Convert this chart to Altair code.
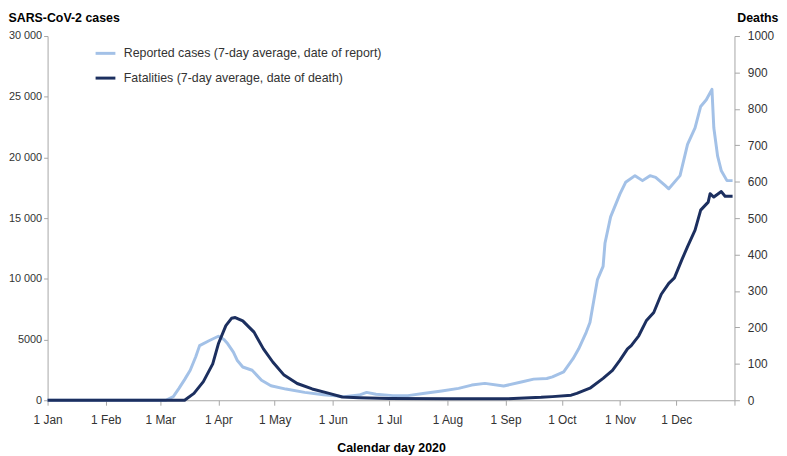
import altair as alt
import pandas as pd

FONT = "Liberation Sans, Arial, sans-serif"

case_dates = ["2020-01-01", "2020-03-04", "2020-03-08", "2020-03-11", "2020-03-14", "2020-03-17",
              "2020-03-20", "2020-03-22", "2020-03-27", "2020-04-01", "2020-04-04", "2020-04-06",
              "2020-04-09", "2020-04-11", "2020-04-14", "2020-04-19", "2020-04-24", "2020-04-29",
              "2020-05-07", "2020-05-17", "2020-05-27", "2020-06-07", "2020-06-15", "2020-06-19",
              "2020-06-24", "2020-07-03", "2020-07-11", "2020-07-20", "2020-07-29", "2020-08-07",
              "2020-08-14", "2020-08-21", "2020-08-31", "2020-09-10", "2020-09-16", "2020-09-23",
              "2020-09-26", "2020-10-02", "2020-10-07", "2020-10-10", "2020-10-14", "2020-10-16",
              "2020-10-20", "2020-10-23", "2020-10-24", "2020-10-27", "2020-11-01", "2020-11-04",
              "2020-11-09", "2020-11-13", "2020-11-17", "2020-11-20", "2020-11-25", "2020-11-27",
              "2020-12-03", "2020-12-07", "2020-12-11", "2020-12-14", "2020-12-17", "2020-12-20",
              "2020-12-21", "2020-12-23", "2020-12-25", "2020-12-28", "2020-12-31"]
case_values = [0, 0, 300, 980, 1700, 2470,
               3600, 4500, 4900, 5270, 5000, 4650,
               3970, 3300, 2740, 2470, 1650, 1200,
               920, 650, 450, 300, 430, 650,
               490, 380, 380, 570, 760, 980,
               1250, 1390, 1170, 1520, 1740, 1790,
               1930, 2340, 3420, 4240, 5600, 6410,
               9940, 11030, 12930, 15100, 17000, 17950,
               18500, 18090, 18500, 18360, 17690, 17420,
               18500, 21080, 22440, 24200, 24750, 25610,
               22440, 20130, 18900, 18090, 18090]

death_dates = ["2020-01-01", "2020-03-14", "2020-03-19", "2020-03-24", "2020-03-29", "2020-04-01",
               "2020-04-05", "2020-04-08", "2020-04-10", "2020-04-14", "2020-04-20", "2020-04-25",
               "2020-04-30", "2020-05-06", "2020-05-13", "2020-05-21", "2020-05-30", "2020-06-06",
               "2020-06-15", "2020-07-01", "2020-08-01", "2020-09-01", "2020-09-20", "2020-09-26",
               "2020-10-06", "2020-10-09", "2020-10-16", "2020-10-23", "2020-10-28", "2020-11-01",
               "2020-11-05", "2020-11-07", "2020-11-11", "2020-11-15", "2020-11-19", "2020-11-23",
               "2020-11-27", "2020-11-30", "2020-12-04", "2020-12-07", "2020-12-11", "2020-12-14",
               "2020-12-18", "2020-12-19", "2020-12-21", "2020-12-25", "2020-12-27", "2020-12-31"]
death_values = [0, 0, 19, 51, 100, 155,
                205, 225, 227, 218, 187, 141,
                105, 69, 46, 31, 19, 9,
                7, 5, 4, 4, 8, 10,
                14, 19, 33, 60, 82, 110,
                141, 150, 177, 218, 241, 291,
                321, 336, 386, 422, 467, 522,
                544, 567, 558, 573, 560, 560]

series_names = ["Reported cases (7-day average, date of report)",
                "Fatalities (7-day average, date of death)"]
series_colors = ["#a3c1e7", "#1c2f5f"]

cases_df = pd.DataFrame({"date": case_dates, "value": case_values, "s": series_names[0]})
deaths_df = pd.DataFrame({"date": death_dates, "value": death_values, "s": series_names[1]})

x_enc = alt.X(
    "date:T",
    scale=alt.Scale(type="utc",
                    domain=[alt.DateTime(year=2020, month=1, date=1, utc=True),
                            alt.DateTime(year=2021, month=1, date=1, utc=True)],
                    nice=False),
    axis=alt.Axis(
        title="Calendar day 2020",
        tickCount={"interval": "month", "step": 1},
        labelExpr="utcyear(datum.value) == 2021 ? '' : utcFormat(datum.value, '%-d %b')",
        labelFlush=False,
        labelPadding=9,
        labelFontSize=12,
        titlePadding=17,
        titleFontWeight="bold",
        titleColor="#000000",
    ),
)

color_scale = alt.Scale(domain=series_names, range=series_colors)

cases_line = alt.Chart(cases_df).mark_line(strokeWidth=3, strokeJoin="round").encode(
    x=x_enc,
    y=alt.Y("value:Q",
            scale=alt.Scale(domain=[0, 30000], nice=False),
            axis=alt.Axis(
                orient="left",
                values=[0, 5000, 10000, 15000, 20000, 25000, 30000],
                labelExpr="datum.value >= 10000 ? replace(format(datum.value, ','), ',', ' ') : format(datum.value, 'd')",
                title="SARS-CoV-2 cases",
                titleAngle=0,
                titleAlign="left",
                titleBaseline="middle",
                titleX=-40,
                titleY=-19,
                titleFontWeight="bold",
                titleColor="#000000",
                labelPadding=2,
                labelFontSize=11,
                tickSize=4,
            )),
    color=alt.Color("s:N", scale=color_scale,
                    legend=alt.Legend(title=None, orient="none", legendX=47, legendY=6,
                                      symbolType="stroke", symbolSize=400,
                                      symbolStrokeWidth=3, labelOffset=7,
                                      labelLimit=0, rowPadding=7, padding=0)),
)

deaths_line = alt.Chart(deaths_df).mark_line(strokeWidth=3, strokeJoin="round").encode(
    x=x_enc,
    y=alt.Y("value:Q",
            scale=alt.Scale(domain=[0, 1000], nice=False),
            axis=alt.Axis(
                orient="right",
                values=[0, 100, 200, 300, 400, 500, 600, 700, 800, 900, 1000],
                format="d",
                title="Deaths",
                titleAngle=0,
                titleAlign="right",
                titleBaseline="middle",
                titleX=44,
                titleY=-19,
                titleFontWeight="bold",
                titleColor="#000000",
                labelPadding=8,
                labelFontSize=12,
            )),
    color=alt.Color("s:N", scale=color_scale),
)

chart = alt.layer(cases_line, deaths_line).resolve_scale(y="independent").properties(
    width=694,
    height=368,
    autosize=alt.AutoSizeParams(type="none"),
    padding={"left": 40, "top": 26, "right": 45, "bottom": 54},
).configure_view(stroke=None).configure_axis(
    grid=False,
    labelFont=FONT,
    titleFont=FONT,
    titleFontSize=12.5,
    labelColor="#333333",
    domainColor="#a6a6a6",
    tickColor="#a6a6a6",
    tickSize=5,
).configure_legend(
    labelFont=FONT,
    labelFontSize=12.5,
    labelColor="#333333",
)

chart.save("out.html", embed_options={"renderer": "svg", "actions": False})
